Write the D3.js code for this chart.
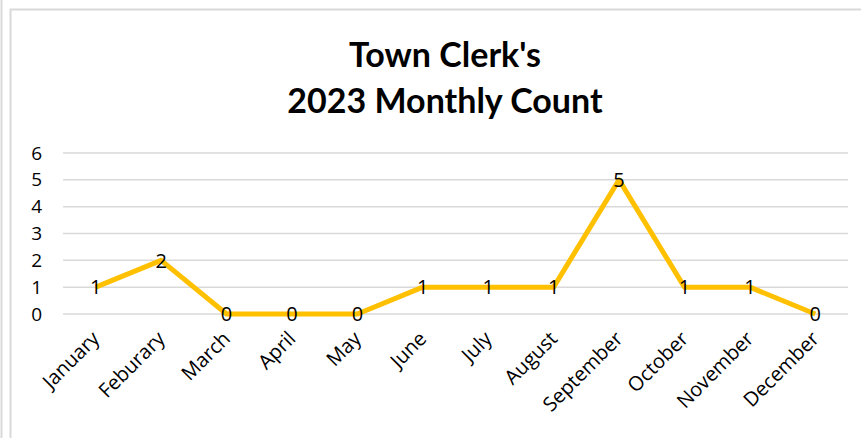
<!DOCTYPE html>
<html><head><meta charset="utf-8">
<script src="https://cdn.jsdelivr.net/npm/d3@7"></script>
<style>body{margin:0;background:#fff}svg{display:block}</style>
</head><body>
<script>
const months = ["January","Feburary","March","April","May","June","July","August","September","October","November","December"];
const counts = [1,2,0,0,0,1,1,1,5,1,1,0];
const yTicks = [0,1,2,3,4,5,6];
const titleLines = ["Town Clerk's","2023 Monthly Count"];

const W=861,H=438;
const svg=d3.select("body").append("svg").attr("width",W).attr("height",H);
const font="Lato, 'Open Sans', sans-serif";
const axisFont="'Open Sans', sans-serif";
// outer frames
svg.append("line").attr("x1",1.5).attr("x2",1.5).attr("y1",0).attr("y2",H).attr("stroke","#d9d9d9").attr("stroke-width",2);
svg.append("path").attr("d",`M10.5,${H} V9.5 H${W}`).attr("fill","none").attr("stroke","#d9d9d9").attr("stroke-width",2);

const x=d3.scaleBand().domain(months).range([63,848]);
const y=d3.scaleLinear().domain([0,6]).range([314,153]);

svg.append("g").selectAll("line").data(yTicks).join("line")
 .attr("x1",63).attr("x2",848).attr("y1",d=>y(d)).attr("y2",d=>y(d))
 .attr("stroke","#d9d9d9").attr("stroke-width",1.5);

svg.append("g").selectAll("text").data(yTicks).join("text")
 .attr("x",42).attr("y",d=>y(d)).attr("dy","0.35em").attr("text-anchor","end")
 .attr("font-family",axisFont).attr("font-size",19).attr("fill","#000").text(d=>d);

const cx=d=>x(d)+x.bandwidth()/2;
svg.append("path").datum(counts)
 .attr("d",d3.line().x((d,i)=>cx(months[i])).y(d=>y(d)))
 .attr("fill","none").attr("stroke","#FFC000").attr("stroke-width",5).attr("stroke-linejoin","round");

svg.append("g").selectAll("text").data(counts).join("text")
 .attr("x",(d,i)=>cx(months[i])).attr("y",d=>y(d)).attr("dy","0.36em").attr("text-anchor","middle")
 .attr("font-family",axisFont).attr("font-size",20).attr("fill","#000").text(d=>d);

svg.append("g").selectAll("text").data(months).join("text")
 .attr("transform",d=>`translate(${cx(d)},${335}) rotate(-45)`)
 .attr("text-anchor","end").attr("dy","0.35em")
 .attr("font-family",axisFont).attr("font-size",20).attr("fill","#000").text(d=>d);

svg.append("g").selectAll("text").data(titleLines).join("text")
 .attr("x",445).attr("y",(d,i)=>67+i*46).attr("text-anchor","middle")
 .attr("font-family",font).attr("font-weight","bold").attr("font-size",34).attr("fill","#000").text(d=>d);
</script>
</body></html>
